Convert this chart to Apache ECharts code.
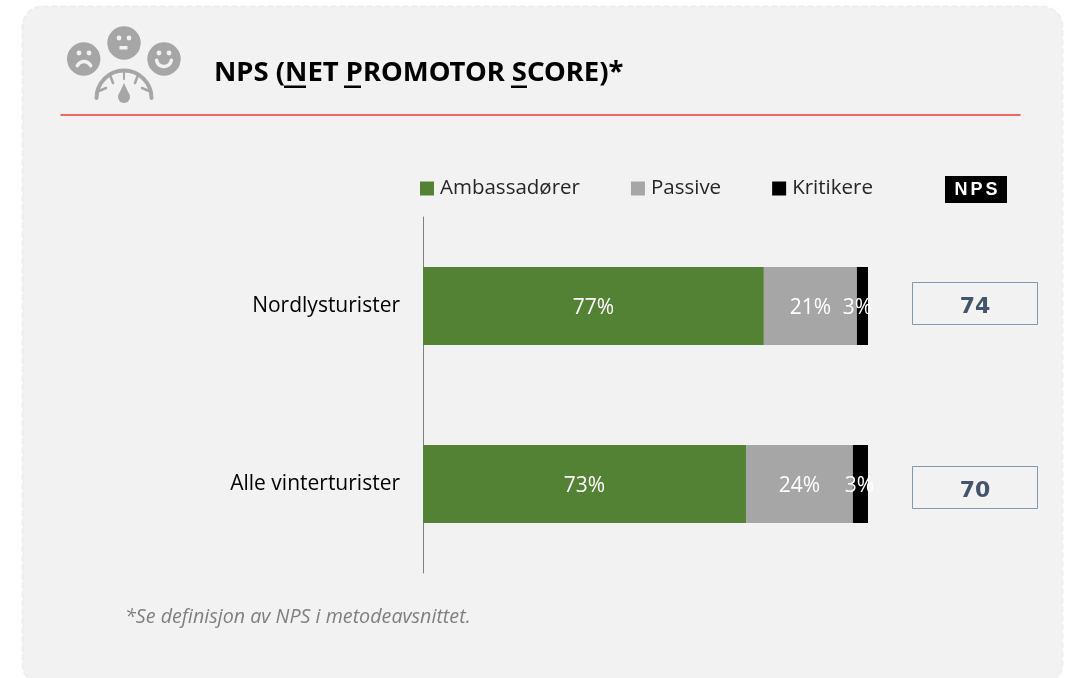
<!DOCTYPE html>
<html><head><meta charset="utf-8">
<style>html,body{margin:0;padding:0;background:#fff}#c{width:1069px;height:678px}</style>
<script src="https://cdn.jsdelivr.net/npm/echarts@6/dist/echarts.min.js"></script>
</head><body><div id="c"></div>
<script>
const categories = ['Nordlysturister', 'Alle vinterturister'];
const ambassadorer = [76.6, 72.6];
const passive = [20.9, 24.0];
const kritikere = [2.5, 3.4];
const ambassadorerLabels = ['77%', '73%'];
const passiveLabels = ['21%', '24%'];
const kritikereLabels = ['3%', '3%'];
const npsValues = [74, 70];
const FONT = '"Open Sans", "Noto Sans", sans-serif';
const GREY = '#a6a6a6', BG = '#f2f2f2';

function ser(name, vals, labels, color, offsets) {
  return {
    name, type: 'bar', stack: 'total', barWidth: 78,
    itemStyle: { color },
    label: { show: true, position: 'inside', color: '#fff', fontFamily: FONT, fontSize: 21, offset: [0, 2],
      formatter: p => labels[p.dataIndex] },
    data: vals.map((v, i) => offsets ? { value: v, label: { offset: offsets[i] } } : v)
  };
}
const circle = (cx, cy, r, fill) => ({ type: 'circle', shape: { cx, cy, r }, style: { fill } });
const line = (x1, y1, x2, y2, stroke, lineWidth) => ({ type: 'line', shape: { x1, y1, x2, y2 }, style: { stroke, lineWidth, lineCap: 'round' } });
const rect = (x, y, width, height, style) => ({ type: 'rect', shape: { x, y, width, height }, style });
const text = (x, y, t, style) => ({ type: 'text', x, y, style: Object.assign({ text: t, fontFamily: FONT, textVerticalAlign: 'middle' }, style) });
const arc = (cx, cy, r, a0, a1, stroke, lineWidth) => ({ type: 'arc', shape: { cx, cy, r, startAngle: a0, endAngle: a1, clockwise: true }, style: { stroke, lineWidth, fill: 'none', lineCap: 'round' } });

const icon = [
  circle(83.7, 59, 16.7, GREY), circle(124, 43, 16.7, GREY), circle(164, 59, 16.7, GREY),
  circle(79, 53, 2.4, BG), circle(89, 53, 2.4, BG),
  arc(84, 69, 7.5, Math.PI * 1.15, Math.PI * 1.85, BG, 3.5),
  circle(119, 38, 2.4, BG), circle(129, 38, 2.4, BG), rect(119.5, 46, 8, 3.5, { fill: BG }),
  circle(159, 53, 2.4, BG), circle(169, 53, 2.4, BG),
  arc(164, 59, 7.5, Math.PI * 0.05, Math.PI * 0.95, BG, 3.5),
  arc(124, 98, 27.5, Math.PI, Math.PI * 2, GREY, 4),
  line(124, 70, 124, 79, GREY, 2), line(110, 75, 113, 83, GREY, 2.5), line(138, 75, 135, 83, GREY, 2.5),
  line(99, 91, 106, 88, GREY, 2.5), line(149, 91, 142, 88, GREY, 2.5),
  { type: 'polygon', shape: { points: [[124, 83], [118.5, 95], [129.5, 95]] }, style: { fill: GREY } },
  circle(124, 97, 6, GREY)
];

const title = [
  text(214, 73, 'NPS (NET PROMOTOR SCORE)*', { fill: '#000', fontSize: 27.5, fontWeight: 'bold', fontFamily: '"Noto Sans", sans-serif' }),
  rect(284, 85.5, 22, 2.5, { fill: '#000' }),
  rect(344, 85.5, 17, 2.5, { fill: '#000' }),
  rect(511, 85.5, 16, 2.5, { fill: '#000' })
];

const npsBoxes = npsValues.flatMap((v, i) => {
  const y = [283, 467][i];
  return [
    rect(912.5, y - 0.5, 125, 42, { fill: 'none', stroke: '#8497b0', lineWidth: 1 }),
    text(975, y + 24, String(v), { fill: '#44546a', fontSize: 22, fontWeight: 'bold', textAlign: 'center', fontFamily: '"DejaVu Sans", sans-serif' })
  ];
});

const chart = echarts.init(document.getElementById('c'), null, { renderer: 'canvas' });
chart.setOption({
  animation: false,
  backgroundColor: '#fff',
  textStyle: { fontFamily: FONT },
  grid: { left: 423, top: 217, width: 445, height: 356, containLabel: false },
  legend: {
    left: 415, top: 173, itemWidth: 14, itemHeight: 14, itemGap: 51, icon: 'rect',
    selectedMode: false,
    textStyle: { fontFamily: FONT, fontSize: 20.5, color: '#262626', padding: [0, 0, 0, 1] },
    data: ['Ambassadører', 'Passive', 'Kritikere']
  },
  xAxis: { type: 'value', min: 0, max: 100, show: false },
  yAxis: {
    type: 'category', inverse: true, data: categories,
    axisTick: { show: false },
    axisLine: { lineStyle: { color: '#808080', width: 1 } },
    axisLabel: { color: '#000', fontFamily: FONT, fontSize: 21, margin: 23 }
  },
  series: [
    ser('Ambassadører', ambassadorer, ambassadorerLabels, '#548235'),
    ser('Passive', passive, passiveLabels, GREY),
    ser('Kritikere', kritikere, kritikereLabels, '#000', [[-5, 2], [-1, 2]])
  ],
  graphic: { elements: [
    { type: 'rect', silent: true, z: -1, shape: { x: 22.5, y: 6.5, width: 1040, height: 678, r: 20 }, style: { fill: BG, stroke: '#eceef6', lineWidth: 2, lineDash: [6, 3] } },
    { type: 'group', silent: true, children: [
      ...icon, ...title,
      line(61, 115, 1020, 115, '#ee3a3a', 1.5),
      rect(945, 176, 62, 27, { fill: '#000' }),
      { type: 'text', x: 976, y: 190, style: { text: '{a|N}{a|P}{b|S}', textAlign: 'center', textVerticalAlign: 'middle', rich: {
        a: { fill: '#fff', fontSize: 18, fontWeight: 'bold', fontFamily: '"Liberation Sans"', padding: [0, 3, 0, 0] },
        b: { fill: '#fff', fontSize: 18, fontWeight: 'bold', fontFamily: '"Liberation Sans"' } } } },
      ...npsBoxes,
      text(125, 617, '*Se definisjon av NPS i metodeavsnittet.', { fill: '#7f7f7f', fontSize: 19.7, fontStyle: 'italic' })
    ] }
  ] }
});
</script></body></html>
